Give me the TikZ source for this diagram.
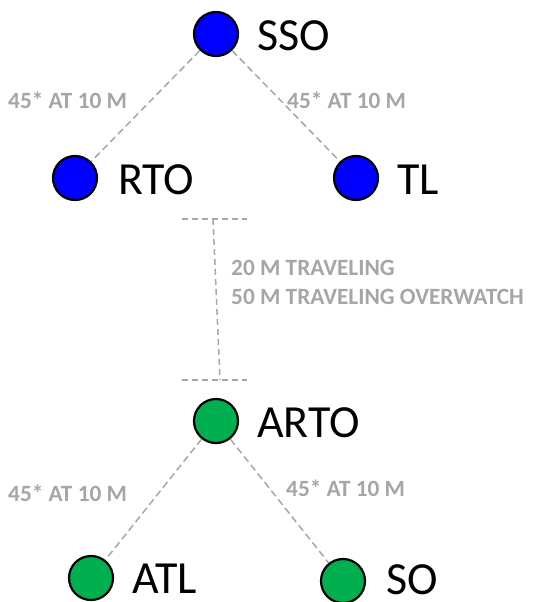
\documentclass[tikz,border=0pt]{standalone}
\usepackage{fontspec}
\setmainfont{Carlito}
\definecolor{teamblue}{HTML}{0000FF}
\definecolor{teamgreen}{HTML}{00B050}
\definecolor{guide}{HTML}{A6A6A6}
\begin{document}
\begin{tikzpicture}[x=1pt,y=-1pt,
  member/.style={circle,draw=black,line width=2.2pt,minimum size=44pt,inner sep=0pt},
  blue member/.style={member,fill=teamblue},
  green member/.style={member,fill=teamgreen},
  role/.style={anchor=west,inner sep=0pt,font=\fontsize{46}{50}\selectfont},
  spacing/.style={anchor=west,inner sep=0pt,text=guide,font=\bfseries\fontsize{23.3}{27}\selectfont},
  link/.style={draw=guide,line width=1.5pt,dash pattern=on 7pt off 4pt},
  bracket/.style={draw=guide,line width=1.5pt,dash pattern=on 6pt off 4pt}]
\useasboundingbox (0,0) rectangle (536,602);

% first fire team
\node[blue member] (sso) at (216,34) {};
\node[blue member] (rto) at (75,178) {};
\node[blue member] (tl)  at (356,178) {};
\node[role] (ssoL) at (257,36) {SSO};
\node[role] (rtoL) at (118,180) {RTO};
\node[role] (tlL)  at (397,180) {TL};
\draw[link] (sso) -- (rto);
\draw[link] (sso) -- (tl);
\node[spacing] (ulL) at (8,100) {45* AT 10 M};
\node[spacing] (urL) at (287,100) {45* AT 10 M};

% distance between the teams
\coordinate (tA) at (182,219);
\coordinate (tB) at (247,219);
\coordinate (tM) at (213,219);
\coordinate (bA) at (182,380);
\coordinate (bB) at (247,380);
\coordinate (bM) at (220,380);
\draw[bracket] (tA) -- (tB);
\draw[bracket] (bA) -- (bB);
\draw[bracket] (tM) -- (bM);
\node[spacing] (gap1) at (231,268) {20 M TRAVELING};
\node[spacing] (gap2) at (231,297) {50 M TRAVELING OVERWATCH};

% second fire team
\node[green member] (arto) at (216,421) {};
\node[green member] (atl)  at (91,578) {};
\node[green member] (so)   at (343,581) {};
\node[role] (artoL) at (257,423) {ARTO};
\node[role] (atlL)  at (132,579) {ATL};
\node[role] (soL)   at (386,580) {SO};
\draw[link] (arto) -- (atl);
\draw[link] (arto) -- (so);
\node[spacing] (llL) at (8,493) {45* AT 10 M};
\node[spacing] (lrL) at (286,488) {45* AT 10 M};
\end{tikzpicture}
\end{document}
